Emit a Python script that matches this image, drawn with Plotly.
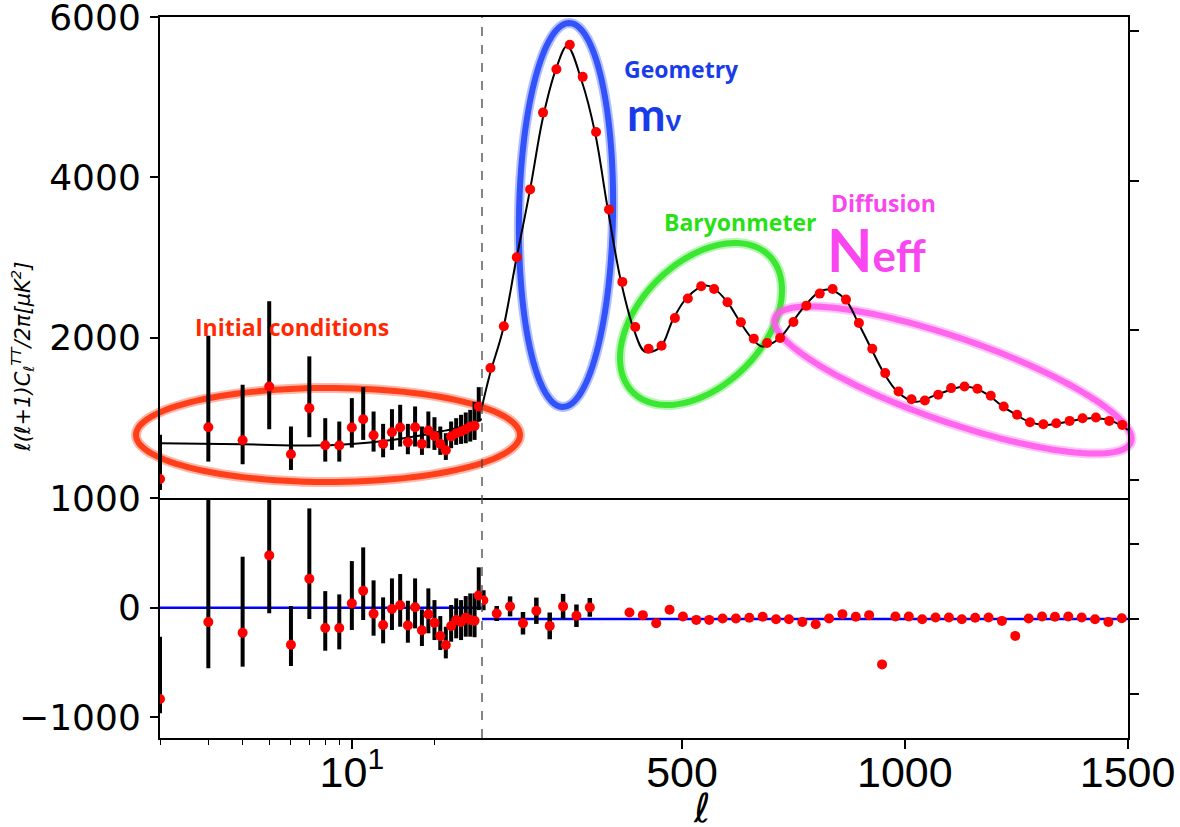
import numpy as np
import plotly.graph_objects as go

# ---------------- data ----------------
# low-ell (log part) TT spectrum, top panel
ell_low = [2, 3, 4, 5, 6, 7, 8, 9, 10, 11, 12, 13, 14, 15,
           16, 17, 18, 19, 20, 21, 22, 23, 24, 25, 26, 27, 28, 29]
D_low = [237, 883, 721, 1392, 546, 1121, 658, 654, 879, 983, 783, 675, 821, 879,
         696, 883, 675, 842, 775, 675, 596, 767, 808, 829, 858, 892, 900, 1142]
D_low_plus = [553, 1142, 692, 1062, 346, 646, 338, 300, 367, 400, 296, 250, 287, 284,
              229, 259, 217, 237, 233, 217, 212, 187, 188, 209, 209, 208, 300, 241]
D_low_minus = [137, 429, 300, 534, 196, 363, 204, 200, 250, 258, 204, 167, 221, 237,
               150, 241, 137, 221, 175, 137, 121, 146, 145, 154, 175, 188, 175, 188]

# low-ell best-fit curve
ell_th_low = [2, 4, 7, 10, 13.5, 18, 21, 24, 27, 29.8]
D_th_low = [683, 671, 654, 675, 717, 783, 829, 871, 925, 983]

# low-ell residuals, bottom panel
R_low = [-834, -131, -229, 477, -338, 264, -186, -186, 39, 154, -56, -159, -13, 21,
         -162, 3, -207, -61, -138, -259, -341, -168, -113, -131, -92, -113, -120, 112]
R_low_plus = [569, 1331, 694, 823, 353, 642, 337, 307, 386, 396, 305, 253, 280, 286,
              225, 264, 191, 237, 207, 182, 167, 192, 198, 200, 198, 243, 250, 256]
R_low_minus = [131, 423, 310, 529, 195, 368, 207, 195, 243, 267, 200, 167, 191, 195,
               158, 192, 143, 173, 158, 128, 122, 143, 167, 165, 173, 152, 150, 134]

# high-ell binned spectrum, top panel
ell_high = [70, 100, 129, 159, 188, 218, 248, 277, 307, 336, 366, 395, 425, 454, 484,
            513, 543, 572, 602, 632, 661, 691, 720, 750, 779, 809, 838, 868, 897, 927,
            956, 986, 1015, 1045, 1075, 1104, 1134, 1163, 1193, 1222, 1252, 1281, 1311,
            1340, 1370, 1399, 1429, 1459, 1488]
D_high = [1621, 2142, 3004, 3850, 4808, 5350, 5654, 5254, 4567, 3600, 2696, 2133, 1862,
          1900, 2246, 2488, 2642, 2608, 2442, 2192, 1988, 1933, 1996, 2196, 2400, 2550,
          2608, 2475, 2183, 1862, 1558, 1329, 1233, 1217, 1288, 1371, 1392, 1362, 1275,
          1142, 1038, 946, 921, 933, 962, 996, 1004, 962, 912]

# high-ell best-fit curve
ell_th_high = [51, 69, 98, 127, 159, 188, 217, 242, 275, 305, 332, 363, 392, 417, 451,
               480, 511, 552, 570, 601, 630, 657, 680, 718, 747, 776, 805, 828, 866, 895,
               924, 953, 983, 1023, 1072, 1131, 1162, 1191, 1220, 1250, 1279, 1315, 1339,
               1369, 1398, 1416, 1458, 1501]
D_th_high = [1140, 1550, 2100, 2950, 3850, 4750, 5350, 5640, 5200, 4550, 3650, 2700, 2100,
             1825, 1880, 2230, 2500, 2650, 2620, 2450, 2200, 1990, 1890, 1990, 2190, 2400,
             2560, 2600, 2480, 2190, 1870, 1560, 1330, 1200, 1290, 1390, 1360, 1270, 1140,
             1040, 950, 912, 925, 955, 985, 995, 975, 850]

# high-ell residuals, bottom panel (own right-hand scale)
ell_res = [54, 84, 114, 143, 173, 203, 233, 263, 293, 382, 412, 442, 472, 502, 532, 561,
           591, 621, 651, 681, 711, 740, 770, 800, 830, 860, 890, 920, 949, 979, 1009,
           1039, 1069, 1099, 1128, 1158, 1188, 1218, 1248, 1278, 1308, 1337, 1367, 1397,
           1427, 1457, 1487]
R_high = [15, 4.4, 10.1, -3.4, 6.6, -5.5, 10.1, 2.6, 9.3, 5.2, 3.1, -3.4, 7.4, 2.0, -0.7,
          -0.7, 0.4, 0.4, 1.0, 1.8, -0.2, -0.2, -2.3, -4.2, 0.4, 3.9, 1.8, 3.1, -36.3, 2.0,
          2.0, -0.2, 1.2, 1.2, -0.2, 1.0, 1.2, -1.5, -13.5, 0.4, 2.0, 1.8, 2.0, 1.2, -0.2,
          -2.3, 0.6]
R_high_err = [8, 6, 8, 9, 10.5, 10.7, 10, 9, 7.5]   # first bins only

# ---------------- geometry of the figure ----------------
W, H = 1180, 827
L, R, T, B = 160, 1128, 17, 738          # plot area in pixels
split_px, divider_px = 482, 498
sx = (split_px - L) / (R - L)
by = (B - divider_px) / (B - T)


def px2paper(x, y):
    return (x - L) / (R - L), (B - y) / (B - T)


def ellipse_path(cx, cy, a, b, theta_deg, n=120):
    t = np.linspace(0, 2 * np.pi, n)
    th = np.radians(theta_deg)
    x = cx + a * np.cos(t) * np.cos(th) - b * np.sin(t) * np.sin(th)
    y = cy + a * np.cos(t) * np.sin(th) + b * np.sin(t) * np.cos(th)
    pts = [px2paper(u, v) for u, v in zip(x, y)]
    return "M " + " L ".join(f"{u:.5f},{v:.5f}" for u, v in pts) + " Z"


RED = "rgb(255,0,0)"
fig = go.Figure()

# top-left
fig.add_trace(go.Scatter(x=ell_th_low, y=D_th_low, xaxis="x", yaxis="y", mode="lines",
                         line=dict(color="black", width=2, shape="spline"),
                         hoverinfo="skip", showlegend=False))
fig.add_trace(go.Scatter(x=ell_low, y=D_low, xaxis="x", yaxis="y", mode="markers",
                         marker=dict(color=RED, size=10),
                         error_y=dict(type="data", symmetric=False, array=D_low_plus,
                                      arrayminus=D_low_minus, color="black",
                                      thickness=4, width=0),
                         showlegend=False))
# top-right
fig.add_trace(go.Scatter(x=ell_th_high, y=D_th_high, xaxis="x2", yaxis="y2", mode="lines",
                         line=dict(color="black", width=2, shape="spline"),
                         hoverinfo="skip", showlegend=False))
fig.add_trace(go.Scatter(x=ell_high, y=D_high, xaxis="x2", yaxis="y2", mode="markers",
                         marker=dict(color=RED, size=10), showlegend=False))
fig.add_trace(go.Scatter(x=[None], y=[None], xaxis="x2", yaxis="y5", mode="markers",
                         hoverinfo="skip", showlegend=False))
# bottom-left
fig.add_trace(go.Scatter(x=ell_low, y=R_low, xaxis="x3", yaxis="y3", mode="markers",
                         marker=dict(color=RED, size=10),
                         error_y=dict(type="data", symmetric=False, array=R_low_plus,
                                      arrayminus=R_low_minus, color="black",
                                      thickness=4, width=0),
                         showlegend=False))
# bottom-right
n_err = len(R_high_err)
fig.add_trace(go.Scatter(x=ell_res[:n_err], y=R_high[:n_err], xaxis="x4", yaxis="y4",
                         mode="markers", marker=dict(color=RED, size=10),
                         error_y=dict(type="data", array=R_high_err, color="black",
                                      thickness=4.5, width=0),
                         showlegend=False))
fig.add_trace(go.Scatter(x=ell_res[n_err:], y=R_high[n_err:], xaxis="x4", yaxis="y4",
                         mode="markers", marker=dict(color=RED, size=10),
                         showlegend=False))

line_kw = dict(showline=True, linecolor="black", linewidth=2, showgrid=False,
               zeroline=False, automargin=False, ticklabeloverflow="allow")
tick_font_y = dict(family="DejaVu Sans", size=36, color="black")
tick_font_x = dict(family="Liberation Sans Narrow, Liberation Sans, sans-serif", size=43,
                   color="black")
lrange = [np.log10(2), np.log10(29.8)]
hrange = [51, 1501]

fig.update_layout(
    template="none",
    width=W, height=H,
    margin=dict(l=L, r=W - R, t=T, b=H - B, autoexpand=False),
    paper_bgcolor="white", plot_bgcolor="white",
    font=dict(family="DejaVu Sans", color="black"),
    showlegend=False,
    xaxis=dict(type="log", domain=[0, sx], range=lrange, anchor="y", ticks="",
               showticklabels=False, mirror=True, **line_kw),
    xaxis2=dict(domain=[sx, 1], range=hrange, anchor="y2", ticks="",
                showticklabels=False, mirror=True, **line_kw),
    xaxis3=dict(type="log", domain=[0, sx], range=lrange, anchor="y3",
                tickvals=[10], ticktext=["10<sup>1</sup>"], ticks="outside",
                ticklen=9, tickwidth=1.5, tickcolor="black", tickfont=tick_font_x,
                ticklabelstandoff=-14,
                minor=dict(tickvals=[2, 3, 4, 5, 6, 7, 8, 9, 20], ticks="outside",
                           ticklen=5, tickwidth=1.2, tickcolor="black", showgrid=False),
                **line_kw),
    xaxis4=dict(domain=[sx, 1], range=hrange, anchor="y4",
                tickvals=[500, 1000, 1500], ticks="outside", ticklen=9, tickwidth=1.5,
                tickcolor="black", tickfont=tick_font_x, ticklabelstandoff=-14,
                **line_kw),
    yaxis=dict(domain=[by, 1], range=[0, 6001], anchor="x",
               tickvals=[2000, 4000, 6000], ticks="outside", ticklen=8, tickwidth=1.5,
               tickcolor="black", tickfont=tick_font_y, ticklabelstandoff=2, **line_kw),
    yaxis2=dict(domain=[by, 1], range=[0, 6001], anchor="x2", visible=False),
    yaxis5=dict(overlaying="y2", side="right", anchor="x2", range=[-240, 6187],
                tickvals=[0, 2000, 4000, 6000], showticklabels=False, ticks="outside",
                ticklen=9, tickwidth=1.5, tickcolor="black", **line_kw),
    yaxis3=dict(domain=[0, by], range=[-1190, 1001], anchor="x3",
                tickvals=[-1000, 0, 1000], ticktext=["\u22121000", "0", "1000"],
                ticks="outside", ticklen=8, tickwidth=1.5, tickcolor="black",
                tickfont=tick_font_y, ticklabelstandoff=2, **line_kw),
    yaxis4=dict(domain=[0, by], range=[-95.2, 96.8], anchor="x4", side="right",
                tickvals=[-60, 0, 60], showticklabels=False, ticks="outside",
                ticklen=9, tickwidth=1.5, tickcolor="black", **line_kw),
)

shapes = [
    dict(type="line", xref="x3 domain", x0=0, x1=1, yref="y3", y0=0, y1=0,
         line=dict(color="blue", width=2.5), layer="below"),
    dict(type="line", xref="x4 domain", x0=0, x1=1, yref="y4", y0=0, y1=0,
         line=dict(color="blue", width=2.5), layer="below"),
    dict(type="line", xref="paper", x0=sx, x1=sx, yref="paper", y0=0, y1=1,
         line=dict(color="#444444", width=1.3, dash="dash")),
]

ellipses = [
    ((328, 435, 192, 47, 0), (255, 50, 10)),
    ((566, 215, 47, 192, 1), (35, 70, 250)),
    ((701, 324, 96.5, 61.7, -45), (45, 230, 35)),
    ((953, 380, 188.5, 42, 19.2), (255, 90, 235)),
]
for (cx, cy, a, b, th), (r, g, bl) in ellipses:
    p = ellipse_path(cx, cy, a, b, th)
    shapes.append(dict(type="path", path=p, xref="paper", yref="paper", layer="below",
                       line=dict(color=f"rgba({r},{g},{bl},0.35)", width=10)))
    shapes.append(dict(type="path", path=p, xref="paper", yref="paper", layer="below",
                       line=dict(color=f"rgba({r},{g},{bl},0.9)", width=6)))
fig.update_layout(shapes=shapes)

LAB = "Open Sans, Lato, sans-serif"
ann = []


def add_text(text, x, y, size, color, family=LAB, xanchor="center", yanchor="middle",
             angle=0):
    px, py = px2paper(x, y)
    ann.append(dict(text=text, x=px, y=py, xref="paper", yref="paper", showarrow=False,
                    xanchor=xanchor, yanchor=yanchor, textangle=angle,
                    font=dict(family=family, size=size, color=color)))


add_text("<b>Initial conditions</b>", 292, 327, 23, "rgb(255,40,0)")
add_text("<b>Geometry</b>", 681, 69, 23, "rgb(25,60,235)")
add_text("<b>m<span style='font-size:30px'>ν</span></b>", 625, 113, 46, "rgb(25,60,235)",
         family="Lato, sans-serif", xanchor="left")
add_text("<b>Baryonmeter</b>", 740, 222, 23, "rgb(40,225,20)")
add_text("<b>Diffusion</b>", 883, 203, 23, "rgb(250,70,240)")
add_text("<b>N<span style='font-size:44px'>eff</span></b>", 825, 250, 59,
         "rgb(250,70,240)", family="Lato, sans-serif", xanchor="left")
add_text("<i>ℓ</i>", 702, 808, 40, "black", family="DejaVu Sans")
add_text("<i>ℓ(ℓ+1)C<sub>ℓ</sub><sup>TT</sup>/2π[μK<sup>2</sup>]</i>", 22, 357, 21,
         "black", family="DejaVu Sans", angle=-90)
fig.update_layout(annotations=ann)

fig.write_html("out.html", config={"displayModeBar": False},
               post_script="document.body.style.margin='0px';"
                           "document.documentElement.style.overflow='hidden';")
